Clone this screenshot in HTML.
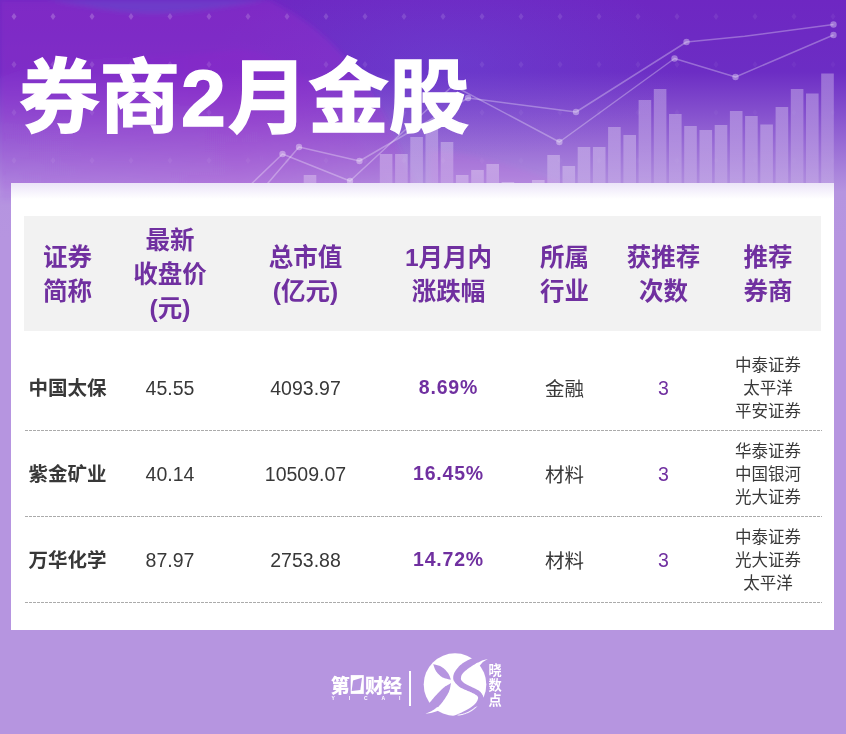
<!DOCTYPE html>
<html lang="zh-CN"><head><meta charset="utf-8"><title>券商2月金股</title>
<style>
html,body{margin:0;padding:0}
body{width:846px;height:734px;overflow:hidden;position:relative;background:#b695e0;font-family:"Liberation Sans","Noto Sans CJK SC",sans-serif;}
#hdr{position:absolute;left:0;top:0;width:846px;height:240px}
#title{position:absolute;left:19px;top:43px;margin:0;font-size:80.5px;line-height:110px;font-weight:bold;-webkit-text-stroke:1.5px #fff;color:#fff;white-space:nowrap;font-family:"Liberation Sans","Noto Sans CJK SC",sans-serif;}
#card{position:absolute;left:11px;top:183px;width:823px;height:447px;background:linear-gradient(#ebe4f8 0px,#fff 16px,#fff 100%)}
#thead{position:absolute;left:24px;top:216px;width:797px;height:115px;background:#f2f2f2}
.th{position:absolute;transform:translate(-50%,-50%);text-align:center;color:#7030a0;font-weight:bold;font-size:24.5px;line-height:34px;white-space:nowrap}
.ln{position:absolute;left:25px;width:797px;height:1px;background:repeating-linear-gradient(90deg,#ababab 0,#ababab 3px,transparent 3px,transparent 4px)}
.c{position:absolute;transform:translate(-50%,-50%);text-align:center;white-space:nowrap;color:#383838;font-size:19.5px;line-height:24px}
.nm{font-weight:bold;color:#383838}
.pc{font-weight:bold;color:#7030a0;letter-spacing:0.8px}
.ct{color:#7030a0}
.br{font-size:16.5px;line-height:23px}
.ft{position:absolute;color:#fff;font-weight:bold;white-space:nowrap}
</style></head><body>
<svg id="hdr" width="846" height="240" viewBox="0 0 846 240">
<defs>
<linearGradient id="g0" x1="0" y1="0" x2="0" y2="1"><stop offset="0" stop-color="#6e27c2"/><stop offset="0.30" stop-color="#6c2dc4"/><stop offset="0.80" stop-color="#b594e0"/><stop offset="1" stop-color="#b695e0"/></linearGradient>
<linearGradient id="bg" x1="0" y1="0" x2="0" y2="1"><stop offset="0" stop-color="#fff" stop-opacity="0.3"/><stop offset="1" stop-color="#fff" stop-opacity="0.12"/></linearGradient>
<linearGradient id="wg1" x1="0" y1="0" x2="0" y2="1"><stop offset="0" stop-color="#a428cc" stop-opacity="0.30"/><stop offset="0.5" stop-color="#a828cc" stop-opacity="0.30"/><stop offset="0.9" stop-color="#b040d0" stop-opacity="0.14"/><stop offset="1" stop-color="#b040d0" stop-opacity="0.05"/></linearGradient>
<linearGradient id="wg2" x1="0" y1="0" x2="1" y2="0"><stop offset="0" stop-color="#8a50e0" stop-opacity="0.10"/><stop offset="0.6" stop-color="#a828d0" stop-opacity="0.14"/><stop offset="1" stop-color="#a828d0" stop-opacity="0.0"/></linearGradient>
<radialGradient id="rg1"><stop offset="0" stop-color="#6a60e4" stop-opacity="0.26"/><stop offset="1" stop-color="#6a58e0" stop-opacity="0"/></radialGradient>
<filter id="bl" x="-5%" y="-20%" width="110%" height="140%"><feGaussianBlur stdDeviation="2.5"/></filter>
</defs>
<rect width="846" height="240" fill="url(#g0)"/>
<ellipse cx="450" cy="60" rx="240" ry="100" fill="url(#rg1)"/>
<g filter="url(#bl)">
<path d="M0 0L48 0C90 6 120 14 160 13C200 12 240 4 268 0C300 14 330 38 352 66C380 100 400 145 420 200L0 200Z" fill="url(#wg1)"/>
<path d="M0 78C60 50 150 62 230 50C290 44 340 110 400 200L0 200Z" fill="url(#wg2)"/>
<path d="M430 150C470 152 520 168 570 186L430 186Z" fill="#c860d8" fill-opacity="0.16"/>
<path d="M48 0C90 6 120 14 160 13C200 12 240 4 268 0Z" fill="#6a70dc" fill-opacity="0.28"/>
</g>
<path d="M14.0 13.0L16.5 16.5L14.0 20.0L11.5 16.5Z" fill="#fff" fill-opacity="0.210"/>
<path d="M53.0 13.0L55.5 16.5L53.0 20.0L50.5 16.5Z" fill="#fff" fill-opacity="0.202"/>
<path d="M92.0 13.0L94.5 16.5L92.0 20.0L89.5 16.5Z" fill="#fff" fill-opacity="0.195"/>
<path d="M131.0 13.0L133.5 16.5L131.0 20.0L128.5 16.5Z" fill="#fff" fill-opacity="0.187"/>
<path d="M170.0 13.0L172.5 16.5L170.0 20.0L167.5 16.5Z" fill="#fff" fill-opacity="0.180"/>
<path d="M209.0 13.0L211.5 16.5L209.0 20.0L206.5 16.5Z" fill="#fff" fill-opacity="0.173"/>
<path d="M248.0 13.0L250.5 16.5L248.0 20.0L245.5 16.5Z" fill="#fff" fill-opacity="0.165"/>
<path d="M287.0 13.0L289.5 16.5L287.0 20.0L284.5 16.5Z" fill="#fff" fill-opacity="0.158"/>
<path d="M326.0 13.0L328.5 16.5L326.0 20.0L323.5 16.5Z" fill="#fff" fill-opacity="0.150"/>
<path d="M365.0 13.0L367.5 16.5L365.0 20.0L362.5 16.5Z" fill="#fff" fill-opacity="0.143"/>
<path d="M404.0 13.0L406.5 16.5L404.0 20.0L401.5 16.5Z" fill="#fff" fill-opacity="0.135"/>
<path d="M443.0 13.0L445.5 16.5L443.0 20.0L440.5 16.5Z" fill="#fff" fill-opacity="0.128"/>
<path d="M482.0 13.0L484.5 16.5L482.0 20.0L479.5 16.5Z" fill="#fff" fill-opacity="0.120"/>
<path d="M521.0 13.0L523.5 16.5L521.0 20.0L518.5 16.5Z" fill="#fff" fill-opacity="0.113"/>
<path d="M560.0 13.0L562.5 16.5L560.0 20.0L557.5 16.5Z" fill="#fff" fill-opacity="0.106"/>
<path d="M599.0 13.0L601.5 16.5L599.0 20.0L596.5 16.5Z" fill="#fff" fill-opacity="0.098"/>
<path d="M638.0 13.0L640.5 16.5L638.0 20.0L635.5 16.5Z" fill="#fff" fill-opacity="0.091"/>
<path d="M677.0 13.0L679.5 16.5L677.0 20.0L674.5 16.5Z" fill="#fff" fill-opacity="0.083"/>
<path d="M716.0 13.0L718.5 16.5L716.0 20.0L713.5 16.5Z" fill="#fff" fill-opacity="0.076"/>
<path d="M755.0 13.0L757.5 16.5L755.0 20.0L752.5 16.5Z" fill="#fff" fill-opacity="0.068"/>
<path d="M794.0 13.0L796.5 16.5L794.0 20.0L791.5 16.5Z" fill="#fff" fill-opacity="0.061"/>
<path d="M833.0 13.0L835.5 16.5L833.0 20.0L830.5 16.5Z" fill="#fff" fill-opacity="0.053"/>
<path d="M14.0 61.0L16.5 64.5L14.0 68.0L11.5 64.5Z" fill="#fff" fill-opacity="0.136"/>
<path d="M53.0 61.0L55.5 64.5L53.0 68.0L50.5 64.5Z" fill="#fff" fill-opacity="0.131"/>
<path d="M92.0 61.0L94.5 64.5L92.0 68.0L89.5 64.5Z" fill="#fff" fill-opacity="0.126"/>
<path d="M131.0 61.0L133.5 64.5L131.0 68.0L128.5 64.5Z" fill="#fff" fill-opacity="0.121"/>
<path d="M170.0 61.0L172.5 64.5L170.0 68.0L167.5 64.5Z" fill="#fff" fill-opacity="0.117"/>
<path d="M209.0 61.0L211.5 64.5L209.0 68.0L206.5 64.5Z" fill="#fff" fill-opacity="0.112"/>
<path d="M248.0 61.0L250.5 64.5L248.0 68.0L245.5 64.5Z" fill="#fff" fill-opacity="0.107"/>
<path d="M287.0 61.0L289.5 64.5L287.0 68.0L284.5 64.5Z" fill="#fff" fill-opacity="0.102"/>
<path d="M326.0 61.0L328.5 64.5L326.0 68.0L323.5 64.5Z" fill="#fff" fill-opacity="0.097"/>
<path d="M365.0 61.0L367.5 64.5L365.0 68.0L362.5 64.5Z" fill="#fff" fill-opacity="0.092"/>
<path d="M404.0 61.0L406.5 64.5L404.0 68.0L401.5 64.5Z" fill="#fff" fill-opacity="0.088"/>
<path d="M443.0 61.0L445.5 64.5L443.0 68.0L440.5 64.5Z" fill="#fff" fill-opacity="0.083"/>
<path d="M482.0 61.0L484.5 64.5L482.0 68.0L479.5 64.5Z" fill="#fff" fill-opacity="0.078"/>
<path d="M521.0 61.0L523.5 64.5L521.0 68.0L518.5 64.5Z" fill="#fff" fill-opacity="0.073"/>
<path d="M560.0 61.0L562.5 64.5L560.0 68.0L557.5 64.5Z" fill="#fff" fill-opacity="0.068"/>
<path d="M599.0 61.0L601.5 64.5L599.0 68.0L596.5 64.5Z" fill="#fff" fill-opacity="0.064"/>
<path d="M638.0 61.0L640.5 64.5L638.0 68.0L635.5 64.5Z" fill="#fff" fill-opacity="0.059"/>
<path d="M677.0 61.0L679.5 64.5L677.0 68.0L674.5 64.5Z" fill="#fff" fill-opacity="0.054"/>
<path d="M716.0 61.0L718.5 64.5L716.0 68.0L713.5 64.5Z" fill="#fff" fill-opacity="0.049"/>
<path d="M755.0 61.0L757.5 64.5L755.0 68.0L752.5 64.5Z" fill="#fff" fill-opacity="0.044"/>
<path d="M794.0 61.0L796.5 64.5L794.0 68.0L791.5 64.5Z" fill="#fff" fill-opacity="0.039"/>
<path d="M833.0 61.0L835.5 64.5L833.0 68.0L830.5 64.5Z" fill="#fff" fill-opacity="0.035"/>
<path d="M14.0 109.0L16.5 112.5L14.0 116.0L11.5 112.5Z" fill="#fff" fill-opacity="0.086"/>
<path d="M53.0 109.0L55.5 112.5L53.0 116.0L50.5 112.5Z" fill="#fff" fill-opacity="0.083"/>
<path d="M92.0 109.0L94.5 112.5L92.0 116.0L89.5 112.5Z" fill="#fff" fill-opacity="0.080"/>
<path d="M131.0 109.0L133.5 112.5L131.0 116.0L128.5 112.5Z" fill="#fff" fill-opacity="0.077"/>
<path d="M170.0 109.0L172.5 112.5L170.0 116.0L167.5 112.5Z" fill="#fff" fill-opacity="0.074"/>
<path d="M209.0 109.0L211.5 112.5L209.0 116.0L206.5 112.5Z" fill="#fff" fill-opacity="0.071"/>
<path d="M248.0 109.0L250.5 112.5L248.0 116.0L245.5 112.5Z" fill="#fff" fill-opacity="0.068"/>
<path d="M287.0 109.0L289.5 112.5L287.0 116.0L284.5 112.5Z" fill="#fff" fill-opacity="0.065"/>
<path d="M326.0 109.0L328.5 112.5L326.0 116.0L323.5 112.5Z" fill="#fff" fill-opacity="0.062"/>
<path d="M365.0 109.0L367.5 112.5L365.0 116.0L362.5 112.5Z" fill="#fff" fill-opacity="0.059"/>
<path d="M404.0 109.0L406.5 112.5L404.0 116.0L401.5 112.5Z" fill="#fff" fill-opacity="0.056"/>
<path d="M443.0 109.0L445.5 112.5L443.0 116.0L440.5 112.5Z" fill="#fff" fill-opacity="0.053"/>
<path d="M482.0 109.0L484.5 112.5L482.0 116.0L479.5 112.5Z" fill="#fff" fill-opacity="0.050"/>
<path d="M521.0 109.0L523.5 112.5L521.0 116.0L518.5 112.5Z" fill="#fff" fill-opacity="0.047"/>
<path d="M560.0 109.0L562.5 112.5L560.0 116.0L557.5 112.5Z" fill="#fff" fill-opacity="0.043"/>
<path d="M599.0 109.0L601.5 112.5L599.0 116.0L596.5 112.5Z" fill="#fff" fill-opacity="0.040"/>
<path d="M638.0 109.0L640.5 112.5L638.0 116.0L635.5 112.5Z" fill="#fff" fill-opacity="0.037"/>
<path d="M677.0 109.0L679.5 112.5L677.0 116.0L674.5 112.5Z" fill="#fff" fill-opacity="0.034"/>
<path d="M716.0 109.0L718.5 112.5L716.0 116.0L713.5 112.5Z" fill="#fff" fill-opacity="0.031"/>
<path d="M755.0 109.0L757.5 112.5L755.0 116.0L752.5 112.5Z" fill="#fff" fill-opacity="0.028"/>
<path d="M794.0 109.0L796.5 112.5L794.0 116.0L791.5 112.5Z" fill="#fff" fill-opacity="0.025"/>
<path d="M833.0 109.0L835.5 112.5L833.0 116.0L830.5 112.5Z" fill="#fff" fill-opacity="0.022"/>
<path d="M14.0 157.0L16.5 160.5L14.0 164.0L11.5 160.5Z" fill="#fff" fill-opacity="0.062"/>
<path d="M53.0 157.0L55.5 160.5L53.0 164.0L50.5 160.5Z" fill="#fff" fill-opacity="0.060"/>
<path d="M92.0 157.0L94.5 160.5L92.0 164.0L89.5 160.5Z" fill="#fff" fill-opacity="0.057"/>
<path d="M131.0 157.0L133.5 160.5L131.0 164.0L128.5 160.5Z" fill="#fff" fill-opacity="0.055"/>
<path d="M170.0 157.0L172.5 160.5L170.0 164.0L167.5 160.5Z" fill="#fff" fill-opacity="0.053"/>
<path d="M209.0 157.0L211.5 160.5L209.0 164.0L206.5 160.5Z" fill="#fff" fill-opacity="0.051"/>
<path d="M248.0 157.0L250.5 160.5L248.0 164.0L245.5 160.5Z" fill="#fff" fill-opacity="0.049"/>
<path d="M287.0 157.0L289.5 160.5L287.0 164.0L284.5 160.5Z" fill="#fff" fill-opacity="0.046"/>
<path d="M326.0 157.0L328.5 160.5L326.0 164.0L323.5 160.5Z" fill="#fff" fill-opacity="0.044"/>
<path d="M365.0 157.0L367.5 160.5L365.0 164.0L362.5 160.5Z" fill="#fff" fill-opacity="0.042"/>
<path d="M404.0 157.0L406.5 160.5L404.0 164.0L401.5 160.5Z" fill="#fff" fill-opacity="0.040"/>
<path d="M443.0 157.0L445.5 160.5L443.0 164.0L440.5 160.5Z" fill="#fff" fill-opacity="0.038"/>
<path d="M482.0 157.0L484.5 160.5L482.0 164.0L479.5 160.5Z" fill="#fff" fill-opacity="0.035"/>
<path d="M521.0 157.0L523.5 160.5L521.0 164.0L518.5 160.5Z" fill="#fff" fill-opacity="0.033"/>
<path d="M560.0 157.0L562.5 160.5L560.0 164.0L557.5 160.5Z" fill="#fff" fill-opacity="0.031"/>
<path d="M599.0 157.0L601.5 160.5L599.0 164.0L596.5 160.5Z" fill="#fff" fill-opacity="0.029"/>
<path d="M638.0 157.0L640.5 160.5L638.0 164.0L635.5 160.5Z" fill="#fff" fill-opacity="0.027"/>
<path d="M677.0 157.0L679.5 160.5L677.0 164.0L674.5 160.5Z" fill="#fff" fill-opacity="0.024"/>
<path d="M716.0 157.0L718.5 160.5L716.0 164.0L713.5 160.5Z" fill="#fff" fill-opacity="0.022"/>
<path d="M755.0 157.0L757.5 160.5L755.0 164.0L752.5 160.5Z" fill="#fff" fill-opacity="0.020"/>
<path d="M794.0 157.0L796.5 160.5L794.0 164.0L791.5 160.5Z" fill="#fff" fill-opacity="0.018"/>
<path d="M833.0 157.0L835.5 160.5L833.0 164.0L830.5 160.5Z" fill="#fff" fill-opacity="0.016"/>
<rect x="303.7" y="175" width="12.6" height="25" fill="url(#bg)"/>
<rect x="379.8" y="154" width="12.6" height="46" fill="url(#bg)"/>
<rect x="395.1" y="154" width="12.6" height="46" fill="url(#bg)"/>
<rect x="410.3" y="137" width="12.6" height="63" fill="url(#bg)"/>
<rect x="425.5" y="128" width="12.6" height="72" fill="url(#bg)"/>
<rect x="440.7" y="142" width="12.6" height="58" fill="url(#bg)"/>
<rect x="455.9" y="175" width="12.6" height="25" fill="url(#bg)"/>
<rect x="471.2" y="170" width="12.6" height="30" fill="url(#bg)"/>
<rect x="486.4" y="164" width="12.6" height="36" fill="url(#bg)"/>
<rect x="501.6" y="182" width="12.6" height="18" fill="url(#bg)"/>
<rect x="532.0" y="180" width="12.6" height="20" fill="url(#bg)"/>
<rect x="547.3" y="155" width="12.6" height="45" fill="url(#bg)"/>
<rect x="562.5" y="166" width="12.6" height="34" fill="url(#bg)"/>
<rect x="577.7" y="147" width="12.6" height="53" fill="url(#bg)"/>
<rect x="592.9" y="147" width="12.6" height="53" fill="url(#bg)"/>
<rect x="608.1" y="127" width="12.6" height="73" fill="url(#bg)"/>
<rect x="623.4" y="135" width="12.6" height="65" fill="url(#bg)"/>
<rect x="638.6" y="100" width="12.6" height="100" fill="url(#bg)"/>
<rect x="653.8" y="89" width="12.6" height="111" fill="url(#bg)"/>
<rect x="669.0" y="114" width="12.6" height="86" fill="url(#bg)"/>
<rect x="684.2" y="126" width="12.6" height="74" fill="url(#bg)"/>
<rect x="699.5" y="130" width="12.6" height="70" fill="url(#bg)"/>
<rect x="714.7" y="125" width="12.6" height="75" fill="url(#bg)"/>
<rect x="729.9" y="111" width="12.6" height="89" fill="url(#bg)"/>
<rect x="745.1" y="116" width="12.6" height="84" fill="url(#bg)"/>
<rect x="760.3" y="124.5" width="12.6" height="75.5" fill="url(#bg)"/>
<rect x="775.6" y="107" width="12.6" height="93" fill="url(#bg)"/>
<rect x="790.8" y="89" width="12.6" height="111" fill="url(#bg)"/>
<rect x="806.0" y="93.5" width="12.6" height="106.5" fill="url(#bg)"/>
<rect x="821.2" y="73.5" width="12.6" height="126.5" fill="url(#bg)"/>
<g fill="none" stroke="#fff" stroke-opacity="0.3" stroke-width="1.5" stroke-linejoin="round">
<polyline points="262,190 299,147 359.5,161 468,98 576,112 686.5,42 744.7,36.2 833.5,24.5"/><polyline points="245,190 282.5,154 350,181 453,85.5 559.4,142 674.5,58.5 735.5,77 833.5,35"/></g>
<g fill="#fff" fill-opacity="0.36"><circle cx="299" cy="147" r="3.2"/><circle cx="359.5" cy="161" r="3.2"/><circle cx="468" cy="98" r="3.2"/><circle cx="576" cy="112" r="3.2"/><circle cx="686.5" cy="42" r="3.2"/><circle cx="833.5" cy="24.5" r="3.2"/><circle cx="282.5" cy="154" r="3.2"/><circle cx="350" cy="181" r="3.2"/><circle cx="453" cy="85.5" r="3.2"/><circle cx="559.4" cy="142" r="3.2"/><circle cx="674.5" cy="58.5" r="3.2"/><circle cx="735.5" cy="77" r="3.2"/><circle cx="833.5" cy="35" r="3.2"/></g>
</svg>
<h1 id="title">券商<span style="margin:0 2px 0 1px">2</span>月金股</h1>
<div id="card"></div>
<div id="thead"></div>
<div class="th" style="left:67.5px;top:275.1px">证券<br>简称</div>
<div class="th" style="left:170px;top:275.1px">最新<br>收盘价<br>(元)</div>
<div class="th" style="left:305.5px;top:275.1px">总市值<br>(亿元)</div>
<div class="th" style="left:448.5px;top:275.1px">1月月内<br>涨跌幅</div>
<div class="th" style="left:564.5px;top:275.1px">所属<br>行业</div>
<div class="th" style="left:663.5px;top:275.1px">获推荐<br>次数</div>
<div class="th" style="left:768px;top:275.1px">推荐<br>券商</div>
<div class="c nm" style="left:67.5px;top:388.1px">中国太保</div>
<div class="c n" style="left:170px;top:388.3px">45.55</div>
<div class="c n" style="left:305.5px;top:388.3px">4093.97</div>
<div class="c pc" style="left:448.5px;top:386.9px">8.69%</div>
<div class="c" style="left:564.5px;top:389.4px">金融</div>
<div class="c n ct" style="left:663.5px;top:388.3px">3</div>
<div class="c br" style="left:768px;top:387.6px">中泰证券<br>太平洋<br>平安证券</div>
<div class="c nm" style="left:67.5px;top:474.1px">紫金矿业</div>
<div class="c n" style="left:170px;top:474.3px">40.14</div>
<div class="c n" style="left:305.5px;top:474.3px">10509.07</div>
<div class="c pc" style="left:448.5px;top:472.9px">16.45%</div>
<div class="c" style="left:564.5px;top:475.4px">材料</div>
<div class="c n ct" style="left:663.5px;top:474.3px">3</div>
<div class="c br" style="left:768px;top:473.6px">华泰证券<br>中国银河<br>光大证券</div>
<div class="c nm" style="left:67.5px;top:560.1px">万华化学</div>
<div class="c n" style="left:170px;top:560.3px">87.97</div>
<div class="c n" style="left:305.5px;top:560.3px">2753.88</div>
<div class="c pc" style="left:448.5px;top:558.9px">14.72%</div>
<div class="c" style="left:564.5px;top:561.4px">材料</div>
<div class="c n ct" style="left:663.5px;top:560.3px">3</div>
<div class="c br" style="left:768px;top:559.6px">中泰证券<br>光大证券<br>太平洋</div>
<div class="ln" style="top:430px"></div>
<div class="ln" style="top:516px"></div>
<div class="ln" style="top:602px"></div>

<div class="ft" style="left:330.8px;top:675px;font-size:19px;line-height:24px;font-weight:900">第</div>
<svg style="position:absolute;left:345px;top:670px" width="25" height="30" viewBox="345 670 25 30"><rect x="350.7" y="675.1" width="13.1" height="18.8" fill="#fff"/><path d="M353 680.6L362 677.7L360.3 690L351.7 691Z" fill="#b695e0"/></svg>
<div class="ft" style="left:365px;top:675px;font-size:19px;line-height:24px;letter-spacing:-0.9px;font-weight:900">财经</div>
<div class="ft" style="left:331.5px;top:694.6px;font-size:5px;line-height:6px;letter-spacing:13.9px;font-weight:bold">YICAI</div>
<div style="position:absolute;left:408.5px;top:670.5px;width:2px;height:35px;background:#fff"></div>
<svg style="position:absolute;left:415px;top:645px" width="100" height="80" viewBox="415 645 100 80">
<circle cx="455" cy="684.6" r="31.3" fill="#fff"/>
<path d="M433.1,664.1L434.0,664.4L434.9,664.6L435.7,664.8L436.6,665.1L437.5,665.3L438.4,665.5L439.3,665.8L440.1,666.1L440.9,666.5L441.7,666.9L442.4,667.4L443.2,667.9L443.9,668.5L444.6,669.2L445.3,669.8L445.9,670.5L446.5,671.2L447.1,671.9L447.6,672.5L448.1,673.2L448.5,673.8L448.9,674.5L449.2,675.2L449.5,675.8L449.8,676.5L450.0,677.1L450.2,677.8L450.5,678.5L450.7,679.1L451.0,679.8L451.0,679.8L450.2,679.6L449.3,679.4L448.4,679.2L447.5,679.0L446.7,678.8L445.8,678.6L445.0,678.4L444.2,678.1L443.4,677.8L442.6,677.4L441.9,677.0L441.1,676.5L440.4,675.9L439.7,675.3L439.1,674.7L438.4,674.1L437.8,673.4L437.2,672.7L436.7,672.1L436.2,671.4L435.8,670.7L435.4,670.0L435.0,669.3L434.7,668.6L434.4,667.8L434.2,667.1L433.9,666.3L433.7,665.6L433.4,664.8L433.1,664.1Z" fill="#b695e0"/>
<path d="M451.0,683.1L450.3,683.6L449.5,684.0L448.8,684.4L448.0,684.8L447.3,685.2L446.6,685.7L445.8,686.1L445.0,686.6L444.3,687.2L443.5,687.8L442.7,688.5L441.9,689.3L441.0,690.1L440.2,690.9L439.3,691.8L438.4,692.7L437.6,693.6L436.8,694.5L436.0,695.3L435.3,696.1L434.6,696.8L434.0,697.6L433.4,698.2L432.8,698.9L432.2,699.6L431.7,700.2L431.1,700.9L430.6,701.5L430.0,702.2L429.4,702.9L428.8,703.6L428.2,704.3L427.5,705.0L426.9,705.7L426.2,706.4L425.6,707.1L424.9,707.9L424.3,708.6L423.6,709.3L423.0,710.0L424.0,714.5L426.0,713.4L426.7,713.2L427.3,712.9L428.0,712.7L428.7,712.5L429.4,712.3L430.1,712.0L430.7,711.8L431.4,711.6L432.0,711.3L432.6,711.0L433.2,710.7L433.7,710.4L434.2,710.1L434.7,709.8L435.1,709.5L435.6,709.2L436.1,708.8L436.6,708.4L437.1,708.0L437.6,707.5L438.2,707.0L438.7,706.4L439.3,705.7L439.9,705.1L440.5,704.4L441.1,703.7L441.7,702.9L442.3,702.2L442.9,701.4L443.5,700.6L444.1,699.8L444.7,698.9L445.3,698.0L445.9,697.1L446.5,696.1L447.1,695.2L447.6,694.2L448.1,693.3L448.6,692.4L449.0,691.5L449.3,690.6L449.6,689.8L449.9,688.9L450.1,688.1L450.2,687.3L450.4,686.4L450.5,685.6L450.7,684.8L450.8,683.9L451.0,683.1Z" fill="#b695e0"/>
<path d="M477.0,655.6L476.5,655.8L476.1,656.1L475.7,656.3L475.3,656.5L474.9,656.7L474.5,657.0L474.0,657.2L473.5,657.5L472.9,657.8L472.2,658.2L471.4,658.6L470.5,659.1L469.4,659.6L468.3,660.1L467.2,660.6L466.1,661.2L465.0,661.8L463.9,662.4L462.9,663.1L462.0,663.7L461.2,664.4L460.3,665.1L459.6,665.8L458.8,666.6L458.1,667.4L457.4,668.2L456.8,669.0L456.2,669.8L455.7,670.5L455.2,671.2L454.8,671.9L454.4,672.5L454.1,673.2L453.9,673.8L453.7,674.4L453.5,675.0L453.4,675.6L453.3,676.2L453.2,676.8L453.2,677.3L453.2,677.8L453.2,678.3L453.2,678.7L453.3,679.2L453.4,679.6L453.5,680.0L453.7,680.4L453.9,680.9L454.2,681.3L454.5,681.8L454.9,682.3L455.3,682.9L455.8,683.4L456.3,684.0L456.9,684.6L457.5,685.2L458.2,685.8L458.9,686.4L459.6,686.9L460.3,687.4L461.1,687.9L462.0,688.3L462.9,688.8L463.9,689.2L464.9,689.7L465.9,690.1L466.9,690.5L467.8,690.9L468.7,691.2L469.5,691.6L470.3,692.0L471.0,692.3L471.7,692.6L472.3,692.9L473.0,693.2L473.6,693.5L474.1,693.8L474.7,694.1L475.1,694.4L475.6,694.7L476.0,695.0L476.4,695.3L476.8,695.6L477.1,695.8L477.4,696.1L477.6,696.4L477.8,696.7L478.0,697.0L478.1,697.4L478.1,697.8L478.1,698.3L478.0,698.8L477.8,699.3L477.6,699.9L477.4,700.4L477.1,701.0L476.8,701.6L476.4,702.2L476.0,702.8L475.6,703.3L475.1,703.8L474.7,704.3L474.1,704.8L473.6,705.3L473.0,705.8L472.3,706.3L471.7,706.7L471.0,707.2L470.3,707.7L469.5,708.2L468.7,708.7L467.8,709.2L466.9,709.7L466.0,710.3L465.0,710.8L464.0,711.3L463.0,711.8L462.1,712.2L461.2,712.7L460.3,713.1L459.5,713.5L458.7,713.8L458.0,714.1L457.2,714.4L456.5,714.7L455.8,714.9L455.1,715.2L454.4,715.5L453.7,715.7L453.0,716.0L453.3,716.5L455.0,716.5L456.6,716.5L458.3,716.3L459.9,716.1L461.5,715.8L463.1,715.5L464.7,715.0L466.3,714.5L467.8,713.8L469.3,713.1L470.7,712.4L472.1,711.5L473.5,710.6L474.8,709.6L476.1,708.5L477.3,707.4L478.4,706.2L479.5,705.0L480.5,703.7L481.5,702.4L482.4,701.0L483.2,699.6L483.9,698.1L483.6,697.6L483.5,697.3L483.4,697.0L483.3,696.8L483.2,696.5L483.1,696.2L483.0,695.9L482.9,695.6L482.8,695.3L482.6,695.0L482.4,694.7L482.2,694.4L482.0,694.0L481.7,693.6L481.5,693.3L481.2,692.9L480.9,692.5L480.6,692.1L480.2,691.7L479.8,691.4L479.3,691.0L478.8,690.6L478.2,690.3L477.6,689.9L476.9,689.6L476.2,689.2L475.5,688.8L474.8,688.5L474.0,688.1L473.3,687.8L472.6,687.4L471.9,687.0L471.1,686.7L470.3,686.3L469.5,685.9L468.7,685.5L467.9,685.2L467.2,684.8L466.5,684.4L465.8,684.1L465.2,683.7L464.7,683.4L464.2,683.0L463.7,682.7L463.3,682.3L462.9,682.0L462.6,681.7L462.3,681.3L462.0,681.0L461.7,680.7L461.5,680.4L461.3,680.1L461.2,679.9L461.1,679.6L461.0,679.4L460.9,679.1L460.9,678.9L460.9,678.6L460.9,678.4L461.0,678.1L461.0,677.8L461.0,677.5L461.1,677.2L461.1,676.8L461.2,676.5L461.2,676.2L461.3,675.8L461.5,675.4L461.7,675.0L461.9,674.6L462.2,674.2L462.5,673.8L462.9,673.3L463.3,672.8L463.8,672.3L464.3,671.8L464.8,671.3L465.4,670.8L466.1,670.2L466.8,669.7L467.5,669.1L468.3,668.5L469.2,667.8L470.2,667.2L471.2,666.5L472.3,665.7L473.4,665.0L474.5,664.4L475.6,663.7L476.7,663.1L477.7,662.6L478.7,662.1L479.7,661.7L480.7,661.4L481.7,661.0L482.7,660.7L483.7,660.4L484.6,660.1L485.6,659.8L486.6,659.5L487.6,659.2Z" fill="#b695e0"/>
<path d="M476.5,663.3L477.4,662.8L478.3,662.4L479.2,661.9L480.1,661.4L481.1,661.0L482.0,660.6L482.9,660.3L483.9,660.0L484.9,659.8L485.9,659.6L486.8,659.3L487.8,659.1L487.8,659.1L487.0,659.6L486.1,660.0L485.3,660.5L484.5,661.0L483.7,661.5L483.0,662.0L482.4,662.5L481.9,663.1L481.4,663.7L480.9,664.2L480.5,664.8L480.0,665.4L478.5,666.5Z" fill="#fff"/>
<path d="M425.4,713.8L426.6,713.3L427.8,712.7L429.0,712.2L430.2,711.7L431.3,711.2L432.4,710.6L433.3,710.0L434.2,709.4L435.0,708.8L435.8,708.2L436.6,707.6L437.4,707.0L440.0,709.8L436.7,711.2L431.0,712.9Z" fill="#fff"/>
<path d="M477.8,705.9L477.8,705.9L477.1,706.6L476.4,707.3L475.7,708.0L474.9,708.6L474.2,709.2L473.4,709.8L472.5,710.4L471.7,710.9L470.9,711.5L470.0,712.0L469.1,712.4L468.2,712.9L467.3,713.3L466.4,713.6L465.5,714.0L464.5,714.3L463.6,714.6L462.6,714.9L461.6,715.1L460.7,715.3L459.9,715.4L459.1,715.5L458.4,715.6L457.7,715.7L457.6,714.7L460.5,714.3L461.4,714.1L462.4,713.9L463.3,713.6L464.2,713.4L465.1,713.0L466.0,712.7L466.9,712.3L467.8,712.0L468.7,711.5L469.5,711.1L470.4,710.6L471.2,710.1L472.0,709.6L472.8,709.0L473.5,708.4L474.3,707.8L475.0,707.2L477.8,705.9Z" fill="#fff" fill-opacity="0.9"/>
</svg>
<div class="ft" style="left:488.2px;top:663.2px;font-size:13.2px;line-height:15px;width:14px;text-align:center;font-weight:bold">晓<br>数<br>点</div>

</body></html>
